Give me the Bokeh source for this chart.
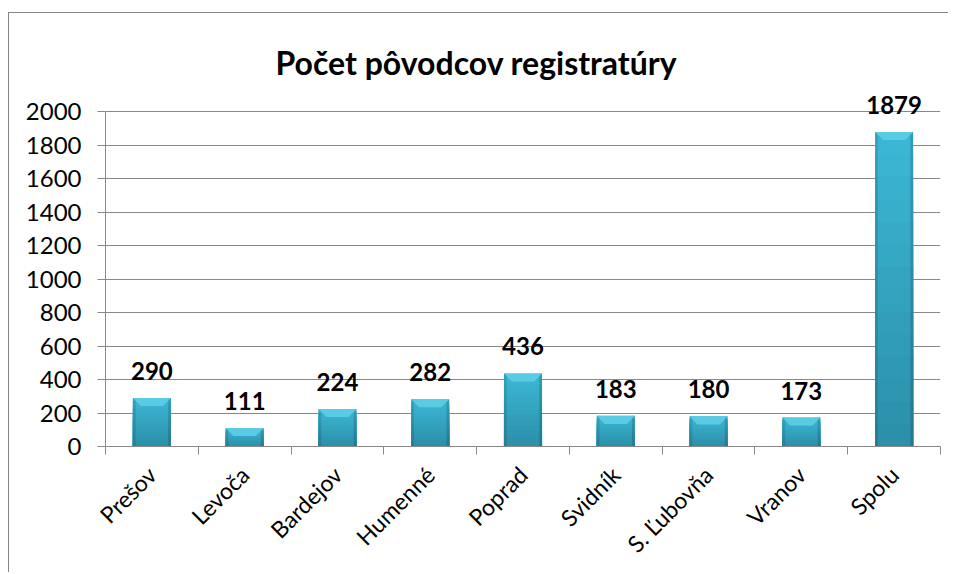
from bokeh.plotting import figure
from bokeh.models import Range1d, FixedTicker, ColumnDataSource
from bokeh.core.properties import value
from bokeh.embed import file_html
from bokeh.resources import INLINE

categories = ["Prešov", "Levoča", "Bardejov", "Humenné", "Poprad", "Svidník", "S. Ľubovňa", "Vranov", "Spolu"]
counts = [290, 111, 224, 282, 436, 183, 180, 173, 1879]
y_ticks = [0, 200, 400, 600, 800, 1000, 1200, 1400, 1600, 1800, 2000]
title_text = "Počet pôvodcov registratúry"

FONT = "Lato"
GRAY = "#888888"

p = figure(width=940, height=560, output_backend="svg", toolbar_location=None,
           x_range=Range1d(0, len(categories)), y_range=Range1d(0, 2150),
           min_border_left=96, min_border_right=9, min_border_top=73, min_border_bottom=127)
p.styles = {"border-left": "1px solid #868686", "border-top": "1px solid #868686",
            "margin-top": "12px", "margin-left": "8px"}
p.outline_line_color = None
p.background_fill_color = "white"
p.border_fill_color = "white"

# title
p.title.text = title_text
p.title.align = "left"
p.title.text_font = FONT
p.title.text_font_size = "32px"
p.title.text_font_style = "bold"
p.title.text_color = "black"
p.title.standoff = 10
p.title.offset = 170
p.title.padding = dict(left=0, right=0, top=7, bottom=0)

# grid
p.xgrid.grid_line_color = None
p.ygrid.grid_line_color = GRAY
p.ygrid.grid_line_width = 1
p.ygrid.ticker = FixedTicker(ticks=y_ticks)

# y axis
p.yaxis.ticker = FixedTicker(ticks=y_ticks)
p.yaxis.bounds = (0, 2000)
p.yaxis.axis_line_color = GRAY
p.yaxis.major_tick_line_color = GRAY
p.yaxis.major_tick_out = 8
p.yaxis.major_tick_in = 0
p.yaxis.minor_tick_line_color = None
p.yaxis.major_label_text_font = FONT
p.yaxis.major_label_text_font_size = "24px"
p.yaxis.major_label_text_color = "black"
p.yaxis.major_label_standoff = 16

# x axis
n = len(categories)
centers = [i + 0.5 for i in range(n)]
bounds = [float(i) for i in range(n + 1)]
p.xaxis.ticker = FixedTicker(ticks=centers, minor_ticks=bounds)
p.xaxis.major_label_overrides = {c: lab for c, lab in zip(centers, categories)}
p.xaxis.axis_line_color = GRAY
p.xaxis.major_tick_line_color = None
p.xaxis.minor_tick_line_color = GRAY
p.xaxis.minor_tick_out = 8
p.xaxis.minor_tick_in = 0
p.xaxis.major_label_orientation = 0.785398
p.xaxis.major_label_text_font = FONT
p.xaxis.major_label_text_font_size = "23px"
p.xaxis.major_label_text_color = "black"
p.xaxis.major_label_standoff = 16

# bars with vertical gradient (overlapping layers, drawn top colour first)
half = 0.205
nslices = 14
c_bot = (0x2B, 0x8E, 0xA8)
c_top = (0x3C, 0xB8, 0xD6)
L, R, B, T, C = [], [], [], [], []
for k in reversed(range(nslices)):
    f = (k + 0.5) / nslices
    col = tuple(int(round(a + (b - a) * f)) for a, b in zip(c_bot, c_top))
    for x, v in zip(centers, counts):
        L.append(x - half); R.append(x + half)
        B.append(0); T.append(v * (k + 1) / nslices)
        C.append("#%02x%02x%02x" % col)
p.quad(left=L, right=R, bottom=B, top=T, fill_color=C, line_color=None)

# darker side edges
edge = 0.03
p.quad(left=[x - half for x in centers], right=[x - half + edge for x in centers],
       bottom=[0] * n, top=counts, fill_color="black", fill_alpha=0.12, line_color=None)
p.quad(left=[x + half - edge for x in centers], right=[x + half for x in centers],
       bottom=[0] * n, top=counts, fill_color="black", fill_alpha=0.15, line_color=None)

# top bevel
bev_h = 48
bev_w = 0.085
xs = [[x - half, x + half, x + half - bev_w, x - half + bev_w] for x in centers]
ys = [[v, v, v - bev_h, v - bev_h] for v in counts]
p.patches(xs=xs, ys=ys, fill_color="#5ACBE5", line_color=None)

# value labels
src = ColumnDataSource(dict(x=centers, y=counts, t=[str(v) for v in counts]))
p.text(x="x", y="y", text="t", source=src, text_align="center", text_baseline="alphabetic",
       y_offset=-27, text_font=value(FONT), text_font_size="24px", text_font_style="bold",
       text_color="black")

open("out.html", "w").write(file_html(p, INLINE))
